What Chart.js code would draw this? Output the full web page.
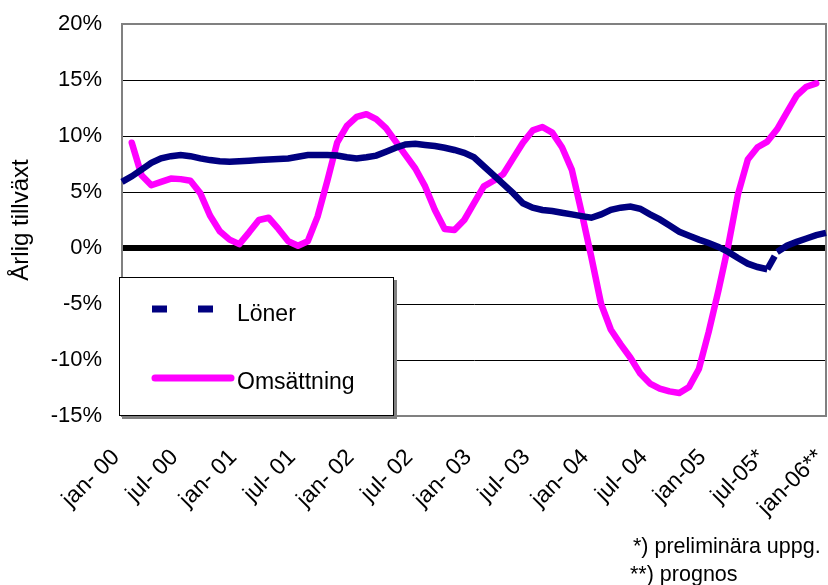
<!DOCTYPE html>
<html>
<head>
<meta charset="utf-8">
<script src="https://cdn.jsdelivr.net/npm/chart.js@4"></script>
<style>
  body { margin: 0; background: #fff; }
  #wrap { width: 828px; height: 585px; position: relative; }
</style>
</head>
<body>
<div id="wrap"><canvas id="chartContainer1"></canvas></div>
<script>
// monthly categories jan-00 .. jan-06
var months = [
  "jan-00","feb-00","mar-00","apr-00","maj-00","jun-00","jul-00","aug-00","sep-00","okt-00","nov-00","dec-00",
  "jan-01","feb-01","mar-01","apr-01","maj-01","jun-01","jul-01","aug-01","sep-01","okt-01","nov-01","dec-01",
  "jan-02","feb-02","mar-02","apr-02","maj-02","jun-02","jul-02","aug-02","sep-02","okt-02","nov-02","dec-02",
  "jan-03","feb-03","mar-03","apr-03","maj-03","jun-03","jul-03","aug-03","sep-03","okt-03","nov-03","dec-03",
  "jan-04","feb-04","mar-04","apr-04","maj-04","jun-04","jul-04","aug-04","sep-04","okt-04","nov-04","dec-04",
  "jan-05","feb-05","mar-05","apr-05","maj-05","jun-05","jul-05","aug-05","sep-05","okt-05","nov-05","dec-05",
  "jan-06"
];

// labels shown every 6th month
var tickLabels = ["jan- 00","jul- 00","jan- 01","jul- 01","jan- 02","jul- 02","jan- 03","jul- 03",
                  "jan- 04","jul- 04","jan-05","jul-05*","jan-06**"];

var loner = [
  5.9, 6.4, 7.0, 7.6, 8.0, 8.2, 8.3, 8.2, 8.0, 7.85, 7.75, 7.7,
  7.75, 7.8, 7.85, 7.9, 7.95, 8.0, 8.15, 8.3, 8.3, 8.3, 8.25, 8.1,
  8.0, 8.1, 8.25, 8.6, 8.95, 9.25, 9.3, 9.2, 9.1, 8.95, 8.75, 8.5,
  8.1, 7.3, 6.5, 5.7, 4.9, 4.0, 3.6, 3.4, 3.3, 3.15, 3.0, 2.85,
  2.7, 3.0, 3.4, 3.6, 3.7, 3.5, 3.0, 2.55, 2.0, 1.45, 1.1, 0.75,
  0.45, 0.1, -0.35, -0.9, -1.4, -1.7, -1.9, -0.35, 0.2, 0.55, 0.85, 1.15,
  1.35
];

var omsattning = [
  null, 9.4, 6.5, 5.6, 5.9, 6.2, 6.15, 6.0, 4.9, 2.9, 1.5, 0.75,
  0.35, 1.4, 2.5, 2.7, 1.7, 0.6, 0.2, 0.6, 2.8, 6.0, 9.4, 10.9,
  11.7, 11.95, 11.5, 10.7, 9.5, 8.3, 7.1, 5.5, 3.4, 1.7, 1.6, 2.5,
  4.0, 5.5, 6.0, 6.6, 8.0, 9.4, 10.5, 10.8, 10.3, 9.0, 7.0, 3.2,
  -0.8, -5.0, -7.3, -8.6, -9.8, -11.2, -12.1, -12.55, -12.8, -12.95, -12.4, -10.8,
  -7.5, -3.8, 0.2, 4.8, 7.9, 9.0, 9.5, 10.6, 12.1, 13.6, 14.4, 14.7,
  null
];

var footnotes = ["*) preliminära uppg.", "**) prognos"];

var FONT = "'Liberation Sans', Arial, sans-serif";

// plot frame, legend box and footnotes
var decor = {
  id: "decor",
  beforeDatasetsDraw: function(chart) {
    var a = chart.chartArea, c = chart.ctx;
    c.save();
    c.strokeStyle = "#808080";
    c.lineWidth = 2;
    c.beginPath();
    c.moveTo(a.left, a.top);
    c.lineTo(a.right, a.top);
    c.lineTo(a.right, a.bottom);
    c.lineTo(a.left, a.bottom);
    c.stroke();
    c.restore();
  },
  afterDraw: function(chart) {
    var c = chart.ctx;
    var ds = chart.data.datasets;
    c.save();
    // legend box with shadow
    c.fillStyle = "#808080";
    c.fillRect(122, 280, 275, 139);
    c.fillStyle = "#fff";
    c.fillRect(119, 277, 274, 138);
    c.strokeStyle = "#000";
    c.lineWidth = 1;
    c.strokeRect(119.5, 277.5, 274, 138);

    c.lineWidth = 7;
    c.strokeStyle = ds[0].borderColor;
    c.lineCap = "butt";
    c.beginPath();
    c.moveTo(152, 309); c.lineTo(167, 309);
    c.moveTo(198, 309); c.lineTo(213, 309);
    c.stroke();

    c.strokeStyle = ds[1].borderColor;
    c.lineCap = "round";
    c.beginPath();
    c.moveTo(155, 378); c.lineTo(231, 378);
    c.stroke();

    c.fillStyle = "#000";
    c.font = "23px " + FONT;
    c.textBaseline = "alphabetic";
    c.fillText(ds[0].label, 237, 321);
    c.fillText(ds[1].label, 237, 389);

    c.font = "21.5px " + FONT;
    c.fillText(footnotes[0], 633, 553);
    c.fillText(footnotes[1], 630, 581);
    c.restore();
  }
};

var ctx1 = document.getElementById("chartContainer1").getContext("2d");

var myChart = new Chart(ctx1, {
  type: "line",
  data: {
    labels: months,
    datasets: [
      {
        label: "Löner",
        data: loner,
        borderColor: "#000080",
        backgroundColor: "#000080",
        borderWidth: 6.5,
        pointRadius: 0,
        tension: 0,
        borderJoinStyle: "miter",
        segment: {
          borderDash: function(s) { return s.p0DataIndex === 66 ? [15, 5] : undefined; }
        }
      },
      {
        label: "Omsättning",
        data: omsattning,
        borderColor: "#FF00FF",
        backgroundColor: "#FF00FF",
        borderWidth: 6.5,
        pointRadius: 0,
        tension: 0,
        borderJoinStyle: "round",
        borderCapStyle: "round"
      }
    ]
  },
  options: {
    responsive: true,
    maintainAspectRatio: false,
    animation: false,
    layout: { padding: { top: 24, right: 2, left: 0, bottom: 0 } },
    plugins: {
      legend: { display: false },
      tooltip: { enabled: false }
    },
    scales: {
      x: {
        grid: { display: false, drawTicks: false },
        border: { display: false },
        ticks: {
          autoSkip: false,
          maxRotation: 45,
          minRotation: 45,
          padding: 28,
          labelOffset: -6,
          color: "#000",
          font: { family: FONT, size: 23 },
          callback: function(v, i) { return i % 6 === 0 ? tickLabels[i / 6] : null; }
        },
        afterFit: function(s) {
          s.height = 169;
          s.paddingLeft = 0; s.paddingRight = 0;
        }
      },
      y: {
        min: -15,
        max: 20,
        ticks: {
          stepSize: 5,
          padding: 20,
          color: "#000",
          font: { family: FONT, size: 22 },
          callback: function(v) { return v + "%"; }
        },
        grid: {
          color: "#000",
          drawTicks: false,
          lineWidth: function(c) { return c.tick && c.tick.value === 0 ? 6 : 1; }
        },
        border: { color: "#808080", width: 2 },
        title: {
          display: true,
          text: "Årlig tillväxt",
          color: "#000",
          font: { family: FONT, size: 24 },
          padding: { top: 7, bottom: 0 }
        },
        afterFit: function(s) {
          s.width = 122;
          s.paddingTop = 0; s.paddingBottom = 0;
        }
      }
    }
  },
  plugins: [decor]
});
</script>
</body>
</html>
